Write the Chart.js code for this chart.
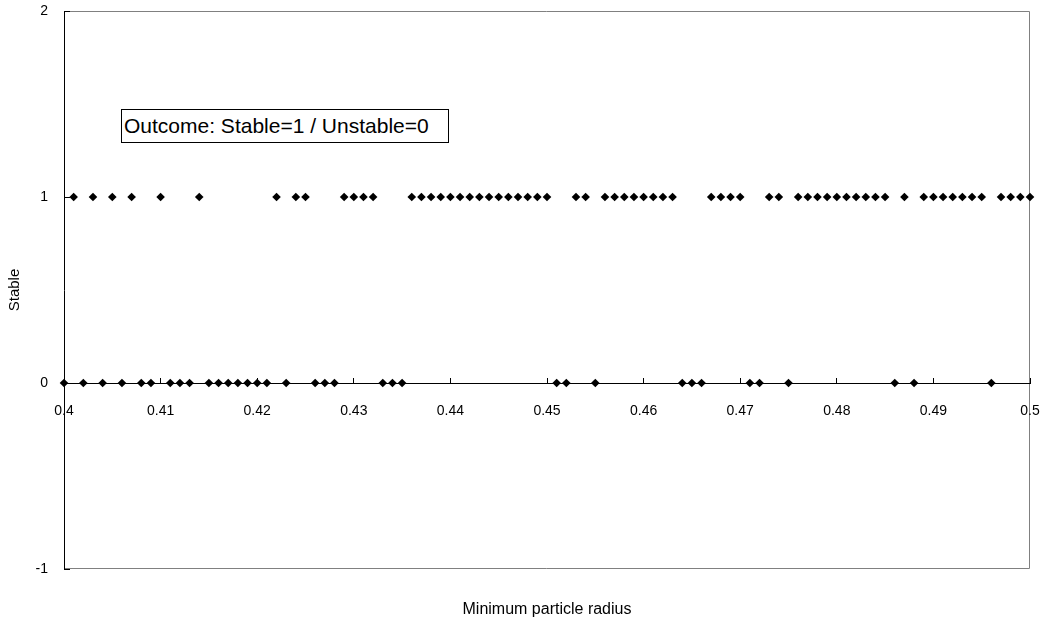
<!DOCTYPE html>
<html>
<head>
<meta charset="utf-8">
<script src="https://cdn.jsdelivr.net/npm/chart.js@4/dist/chart.umd.min.js"></script>
<style>
  html, body { margin: 0; padding: 0; background: #ffffff; }
  #wrap { position: relative; width: 1043px; height: 619px; }
  #chart { position: absolute; left: 0; top: 0; }
  #note {
    position: absolute; left: 121px; top: 109px; width: 328px; height: 34px;
    box-sizing: border-box; border: 1px solid #000; background: #fff;
    font-family: "Liberation Sans", Arial, sans-serif; font-size: 21px;
    line-height: 32px; padding-left: 2px; color: #000; white-space: nowrap;
  }
</style>
</head>
<body>
<div id="wrap">
  <canvas id="chart" width="1043" height="619"></canvas>
  <div id="note">Outcome: Stable=1 / Unstable=0</div>
</div>
<script>
// ---- data ----
const stableRadius = [
  0.401, 0.403, 0.405, 0.407, 0.410, 0.414, 0.422, 0.424, 0.425,
  0.429, 0.430, 0.431, 0.432,
  0.436, 0.437, 0.438, 0.439, 0.440, 0.441, 0.442, 0.443, 0.444, 0.445, 0.446, 0.447, 0.448, 0.449, 0.450,
  0.453, 0.454,
  0.456, 0.457, 0.458, 0.459, 0.460, 0.461, 0.462, 0.463,
  0.467, 0.468, 0.469, 0.470,
  0.473, 0.474,
  0.476, 0.477, 0.478, 0.479, 0.480, 0.481, 0.482, 0.483, 0.484, 0.485,
  0.487,
  0.489, 0.490, 0.491, 0.492, 0.493, 0.494, 0.495,
  0.497, 0.498, 0.499, 0.500
];
const unstableRadius = [
  0.400, 0.402, 0.404, 0.406, 0.408, 0.409, 0.411, 0.412, 0.413,
  0.415, 0.416, 0.417, 0.418, 0.419, 0.420, 0.421, 0.423,
  0.426, 0.427, 0.428, 0.433, 0.434, 0.435,
  0.451, 0.452, 0.455, 0.464, 0.465, 0.466, 0.471, 0.472,
  0.475, 0.486, 0.488, 0.496
];
const stableOutcome = 1;
const unstableOutcome = 0;
const xTickValues = [0.40, 0.41, 0.42, 0.43, 0.44, 0.45, 0.46, 0.47, 0.48, 0.49, 0.50];
const xTickLabels = ['0.4', '0.41', '0.42', '0.43', '0.44', '0.45', '0.46', '0.47', '0.48', '0.49', '0.5'];
const yTickValues = [-1, 0, 1, 2];
const yTickLabels = ['-1', '0', '1', '2'];
const xTitle = 'Minimum particle radius';
const yTitle = 'Stable';

const FONT = '"Liberation Sans", Arial, sans-serif';

const points = stableRadius.map(r => ({ x: r, y: stableOutcome }))
  .concat(unstableRadius.map(r => ({ x: r, y: unstableOutcome })));

const plotBorder = {
  id: 'plotBorder',
  beforeDraw(chart) {
    const { ctx, chartArea: a } = chart;
    ctx.save();
    ctx.strokeStyle = '#808080';
    ctx.lineWidth = 1;
    ctx.beginPath();
    ctx.moveTo(a.left, a.top + 0.5);
    ctx.lineTo(a.right - 0.5, a.top + 0.5);
    ctx.lineTo(a.right - 0.5, a.bottom - 0.5);
    ctx.lineTo(a.left, a.bottom - 0.5);
    ctx.stroke();
    ctx.restore();
  }
};

const noPad = s => { s.paddingTop = 0; s.paddingBottom = 0; s.paddingLeft = 0; s.paddingRight = 0; };

new Chart(document.getElementById('chart'), {
  type: 'scatter',
  data: {
    datasets: [{
      data: points,
      pointStyle: 'rectRot',
      pointRadius: 4.3,
      pointHoverRadius: 4.3,
      backgroundColor: '#000000',
      borderColor: '#000000',
      borderWidth: 0,
      clip: false
    }]
  },
  options: {
    responsive: false,
    animation: false,
    events: [],
    layout: { padding: { top: 11, right: 13, left: 0, bottom: 0 } },
    plugins: {
      legend: { display: false },
      tooltip: { enabled: false },
      title: {
        display: true,
        text: xTitle,
        position: 'bottom',
        fullSize: false,
        color: '#000',
        font: { family: FONT, size: 16, weight: 'normal', lineHeight: 1.2 },
        padding: { top: 30.8, bottom: 0 }
      }
    },
    scales: {
      x: {
        type: 'linear',
        min: 0.4,
        max: 0.5,
        position: { y: 0 },
        afterBuildTicks: s => { s.ticks = xTickValues.map(v => ({ value: v })); },
        afterFit: noPad,
        ticks: {
          autoSkip: false,
          maxRotation: 0,
          padding: 26,
          color: '#000',
          font: { family: FONT, size: 14 },
          callback: (v, i) => xTickLabels[i]
        },
        grid: {
          drawOnChartArea: false,
          drawTicks: true,
          tickLength: -6,
          color: '#000',
          lineWidth: 1
        },
        border: { display: true, color: '#000', width: 1 }
      },
      y: {
        type: 'linear',
        min: -1,
        max: 2,
        position: 'left',
        afterBuildTicks: s => { s.ticks = yTickValues.map(v => ({ value: v })); },
        afterFit: s => { s.width = 64; noPad(s); },
        ticks: {
          padding: 22,
          color: '#000',
          font: { family: FONT, size: 14 },
          callback: (v) => yTickLabels[yTickValues.indexOf(v)]
        },
        grid: {
          drawOnChartArea: false,
          drawTicks: true,
          tickLength: -6,
          color: '#000',
          lineWidth: 1
        },
        border: { display: true, color: '#000', width: 1 },
        title: {
          display: true,
          text: yTitle,
          color: '#000',
          font: { family: FONT, size: 15, weight: 'normal', lineHeight: 1.2 },
          padding: { top: 6, bottom: 0 }
        }
      }
    }
  },
  plugins: [plotBorder]
});
</script>
</body>
</html>
